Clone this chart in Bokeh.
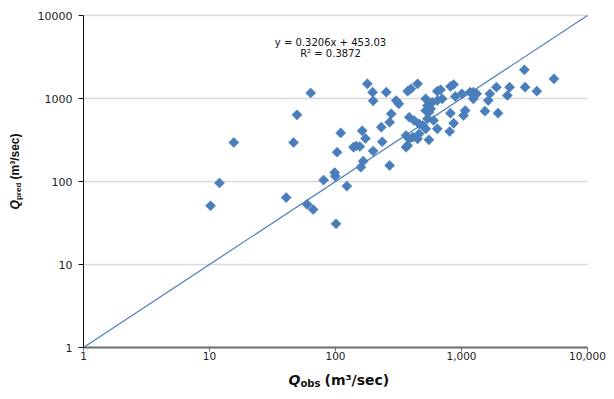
import math
from bokeh.plotting import figure
from bokeh.models import Label, FixedTicker, Range1d
from bokeh.embed import file_html
from bokeh.resources import INLINE

# Observed vs predicted discharge (m3/sec)
q_obs = [10.2, 12.0, 15.6, 46.5, 40.6, 59.6, 66.5, 101, 80.5, 98.5, 99.6, 123, 103, 110,
         139, 146, 163, 173, 166, 159, 199, 63.5, 49.5, 179, 197, 199, 253, 303, 318,
         231, 235, 269, 277, 269, 374, 397, 448, 385, 421, 461, 363, 385, 410, 374,
         461, 448, 552, 363, 520, 587, 643, 703, 537, 569, 520, 552, 537, 520, 643,
         643, 682, 817, 866, 817, 866, 806, 893, 1007, 1070, 1038, 1170, 1242, 1242,
         1321, 1535, 1950, 1630, 1680, 1893, 2410, 2311, 3155, 3198, 3963, 5420, 156,
         493, 601]
q_pred = [51, 96, 295, 295, 64, 53, 46, 31, 104, 128, 116, 88, 225, 385,
          259, 268, 408, 330, 176, 149, 233, 1165, 636, 1503, 1191, 938, 1191, 946, 863,
          451, 301, 518, 654, 156, 1225, 1310, 1503, 595, 543, 495, 358, 327, 342, 272,
          376, 327, 318, 259, 991, 902, 946, 991, 824, 751, 716, 684, 569, 431, 431,
          1225, 1274, 1396, 1475, 665, 504, 400, 1057, 1140, 716, 624, 1191, 1191, 991,
          1140, 703, 665, 946, 1140, 1368, 1368, 1087, 2218, 1368, 1225, 1727, 264,
          473, 543]

# 1:1 line
line_x = [1, 10000]
line_y = [1, 10000]

axis_min, axis_max = 1, 10000
x_ticks = [1, 10, 100, 1000, 10000]
x_tick_labels = ["1", "10", "100", "1,000", "10,000"]
y_ticks = [1, 10, 100, 1000, 10000]
y_tick_labels = ["1", "10", "100", "1000", "10000"]

eq_text = "y = 0.3206x + 453.03"
r2_text = "R\u00b2 = 0.3872"

BLUE = "#4a7ebb"
FONT = "DejaVu Sans"
TXT = "#111111"

# frame covers the whole canvas; axes are pinned at (1, 1) so that titles can sit inside
p = figure(width=606, height=391, x_axis_type="log", y_axis_type="log",
           x_range=Range1d(0.2195, 14155), y_range=Range1d(0.2951, 15161),
           output_backend="svg", toolbar_location=None, title=None,
           min_border_left=0, min_border_right=0, min_border_top=0, min_border_bottom=0)
p.outline_line_color = None
p.background_fill_color = "white"
p.border_fill_color = "white"

p.xgrid.grid_line_color = None
p.ygrid.grid_line_color = "#d9d9d9"
p.ygrid.grid_line_width = 1.5
p.ygrid.bounds = (axis_min, axis_max)
_segments = False
try:
    p.ygrid.cross_bounds = (axis_min, axis_max)
except Exception:
    _segments = True
    p.ygrid.grid_line_color = None

p.xaxis.ticker = FixedTicker(ticks=x_ticks, minor_ticks=[])
p.yaxis.ticker = FixedTicker(ticks=y_ticks, minor_ticks=[])
p.xaxis.major_label_overrides = {t: l for t, l in zip(x_ticks, x_tick_labels)}
p.yaxis.major_label_overrides = {t: l for t, l in zip(y_ticks, y_tick_labels)}
p.xaxis.fixed_location = axis_min
p.yaxis.fixed_location = axis_min
p.xaxis.bounds = (axis_min, axis_max)
p.yaxis.bounds = (axis_min, axis_max)

for ax in (p.xaxis, p.yaxis):
    ax.minor_tick_line_color = None
    ax.major_tick_in = 0
    ax.major_label_text_font = FONT
    ax.major_label_text_color = "#222222"
    ax.axis_label = None

p.xaxis.major_label_text_font_size = "10.5px"
p.yaxis.major_label_text_font_size = "11px"

p.xaxis.axis_line_color = "#6e6e6e"
p.xaxis.axis_line_width = 2
p.xaxis.major_tick_line_color = "#6e6e6e"
p.xaxis.major_tick_out = 4
p.xaxis.major_label_standoff = 0

p.yaxis.axis_line_color = "#111111"
p.yaxis.axis_line_width = 1
p.yaxis.major_tick_line_color = "#111111"
p.yaxis.major_tick_out = 5
p.yaxis.major_label_standoff = 6

if _segments:
    p.segment(x0=[axis_min] * len(y_ticks[1:]), x1=[axis_max] * len(y_ticks[1:]),
              y0=y_ticks[1:], y1=y_ticks[1:], line_color="#d9d9d9", line_width=1.5,
              level="underlay")

p.line(line_x, line_y, line_color=BLUE, line_width=1.2)
p.scatter(q_obs, q_pred, marker="square", angle=math.pi / 4, size=7.2,
          fill_color=BLUE, line_color=BLUE, line_width=0.5)

# Equation text
p.add_layout(Label(x=91.3, y=4766, text=eq_text, text_font=FONT, text_font_size="10px",
                   text_align="center", text_baseline="middle", text_color=TXT))
p.add_layout(Label(x=91.3, y=3483, text=r2_text, text_font=FONT, text_font_size="10px",
                   text_align="center", text_baseline="middle", text_color=TXT))

# X axis title: Q_obs (m3/sec)
p.add_layout(Label(x=42.4, y=0.4116, text="Q", text_font=FONT, text_font_size="14px",
                   text_font_style="bold italic", text_align="left", text_baseline="middle",
                   text_color=TXT))
p.add_layout(Label(x=52.7, y=0.3684, text="obs", text_font=FONT, text_font_size="10px",
                   text_font_style="bold", text_align="left", text_baseline="middle",
                   text_color=TXT))
p.add_layout(Label(x=81.8, y=0.4116, text="(m\u00b3/sec)", text_font=FONT, text_font_size="14px",
                   text_font_style="bold", text_align="left", text_baseline="middle",
                   text_color=TXT))

# Y axis title: Q_pred (m3/sec), rotated
YF = "Liberation Sans"
p.add_layout(Label(x=0.2886, y=46.0, text="Q", text_font=YF, text_font_size="12px",
                   text_font_style="bold italic", text_align="left", text_baseline="middle",
                   angle=math.pi / 2, text_color=TXT))
p.add_layout(Label(x=0.3076, y=59.8, text="pred", text_font=YF, text_font_size="8px",
                   text_font_style="bold", text_align="left", text_baseline="middle",
                   angle=math.pi / 2, text_color=TXT))
p.add_layout(Label(x=0.2886, y=105.7, text="(m\u00b3/sec)", text_font=YF, text_font_size="12px",
                   text_font_style="bold", text_align="left", text_baseline="middle",
                   angle=math.pi / 2, text_color=TXT))

open("out.html", "w").write(file_html(p, INLINE))
